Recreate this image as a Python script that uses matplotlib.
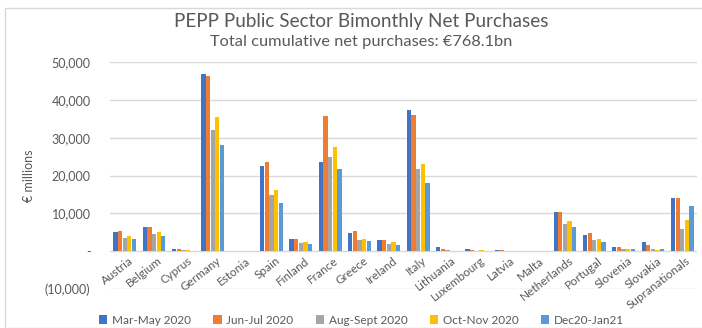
import matplotlib
matplotlib.use("Agg")
import matplotlib.pyplot as plt
import numpy as np
from matplotlib.patches import Rectangle

plt.rcParams['font.family'] = ['Lato', 'DejaVu Sans']

countries = ["Austria", "Belgium", "Cyprus", "Germany", "Estonia", "Spain", "Finland",
             "France", "Greece", "Ireland", "Italy", "Lithuania", "Luxembourg", "Latvia",
             "Malta", "Netherlands", "Portugal", "Slovenia", "Slovakia", "Supranationals"]

series_names = ["Mar-May 2020", "Jun-Jul 2020", "Aug-Sept 2020", "Oct-Nov 2020", "Dec20-Jan21"]

mar_may = [5000, 6500, 500, 46800, 0, 22400, 3200, 23600, 4700, 2900, 37300, 1000, 450, 350, 0, 10300, 4150, 970, 2300, 13950]
jun_jul = [5200, 6400, 500, 46200, 0, 23650, 3200, 35800, 5200, 2900, 36000, 530, 260, 350, 0, 10300, 4700, 970, 1500, 14030]
aug_sep = [3600, 4500, 200, 32000, 0, 14800, 2200, 24800, 3000, 2000, 21700, 440, 0, 0, 0, 7150, 2900, 620, 530, 5830]
oct_nov = [4000, 5000, 200, 35500, 0, 16050, 2400, 27500, 3270, 2300, 22950, 0, 180, 0, 0, 7850, 3180, 620, 260, 8200]
dec_jan = [3200, 4000, 100, 28000, 0, 12700, 1900, 21700, 2650, 1760, 18100, 0, 0, 0, 0, 6270, 2470, 530, 700, 11900]

series = [mar_may, jun_jul, aug_sep, oct_nov, dec_jan]
colors = ["#4472C4", "#ED7D31", "#A5A5A5", "#FFC000", "#5B9BD5"]

yticks = [-10000, 0, 10000, 20000, 30000, 40000, 50000]
ytick_labels = ["(10,000)", "-", "10,000", "20,000", "30,000", "40,000", "50,000"]

fig = plt.figure(figsize=(7.02, 3.28), dpi=100)
ax = fig.add_axes([110/702, 1-289/328, (697-110)/702, (289-62)/328])

x = np.arange(len(countries))
bw = 0.145
step = 0.158
for i, (vals, c, name) in enumerate(zip(series, colors, series_names)):
    ax.bar(x + (i-2)*step, vals, width=bw, color=c, label=name, zorder=3)

ax.set_xlim(-0.5, len(countries)-0.5)
ax.set_ylim(-10000, 50000)
ax.set_yticks(yticks)
ax.set_yticklabels(ytick_labels, color="#595959", fontsize=9)
ax.tick_params(axis='y', length=0, pad=14)
ax.set_xticks([])
for s in ax.spines.values():
    s.set_visible(False)
for yv in yticks:
    ax.axhline(yv, color="#D9D9D9", lw=1, zorder=1)

for xi, name in zip(x, countries):
    ax.text(xi + 0.12, -1000, name, rotation=38, ha='right', va='top',
            rotation_mode='anchor', fontsize=8.5, color="#595959")

ax.set_ylabel("€ millions", color="#595959", fontsize=9)
ax.yaxis.set_label_coords(-0.128, 0.5)

fig.text(0.515, 1-22/328, "PEPP Public Sector Bimonthly Net Purchases", ha='center', va='center',
         fontsize=13.6, color="#595959")
fig.text(0.515, 1-42/328, "Total cumulative net purchases: €768.1bn", ha='center', va='center',
         fontsize=11.8, color="#595959")

fig.legend(loc='lower center', bbox_to_anchor=(0.515, -0.025), ncol=5, frameon=False,
           fontsize=8.5, handlelength=0.7, handleheight=0.7, handletextpad=0.4,
           columnspacing=1.9, labelcolor="#595959")

fig.patches.append(Rectangle((5/702, 0), 1, 1-8/328, transform=fig.transFigure,
                             fill=False, edgecolor="#D9D9D9", lw=1))

fig.savefig("out.png", dpi=100)
